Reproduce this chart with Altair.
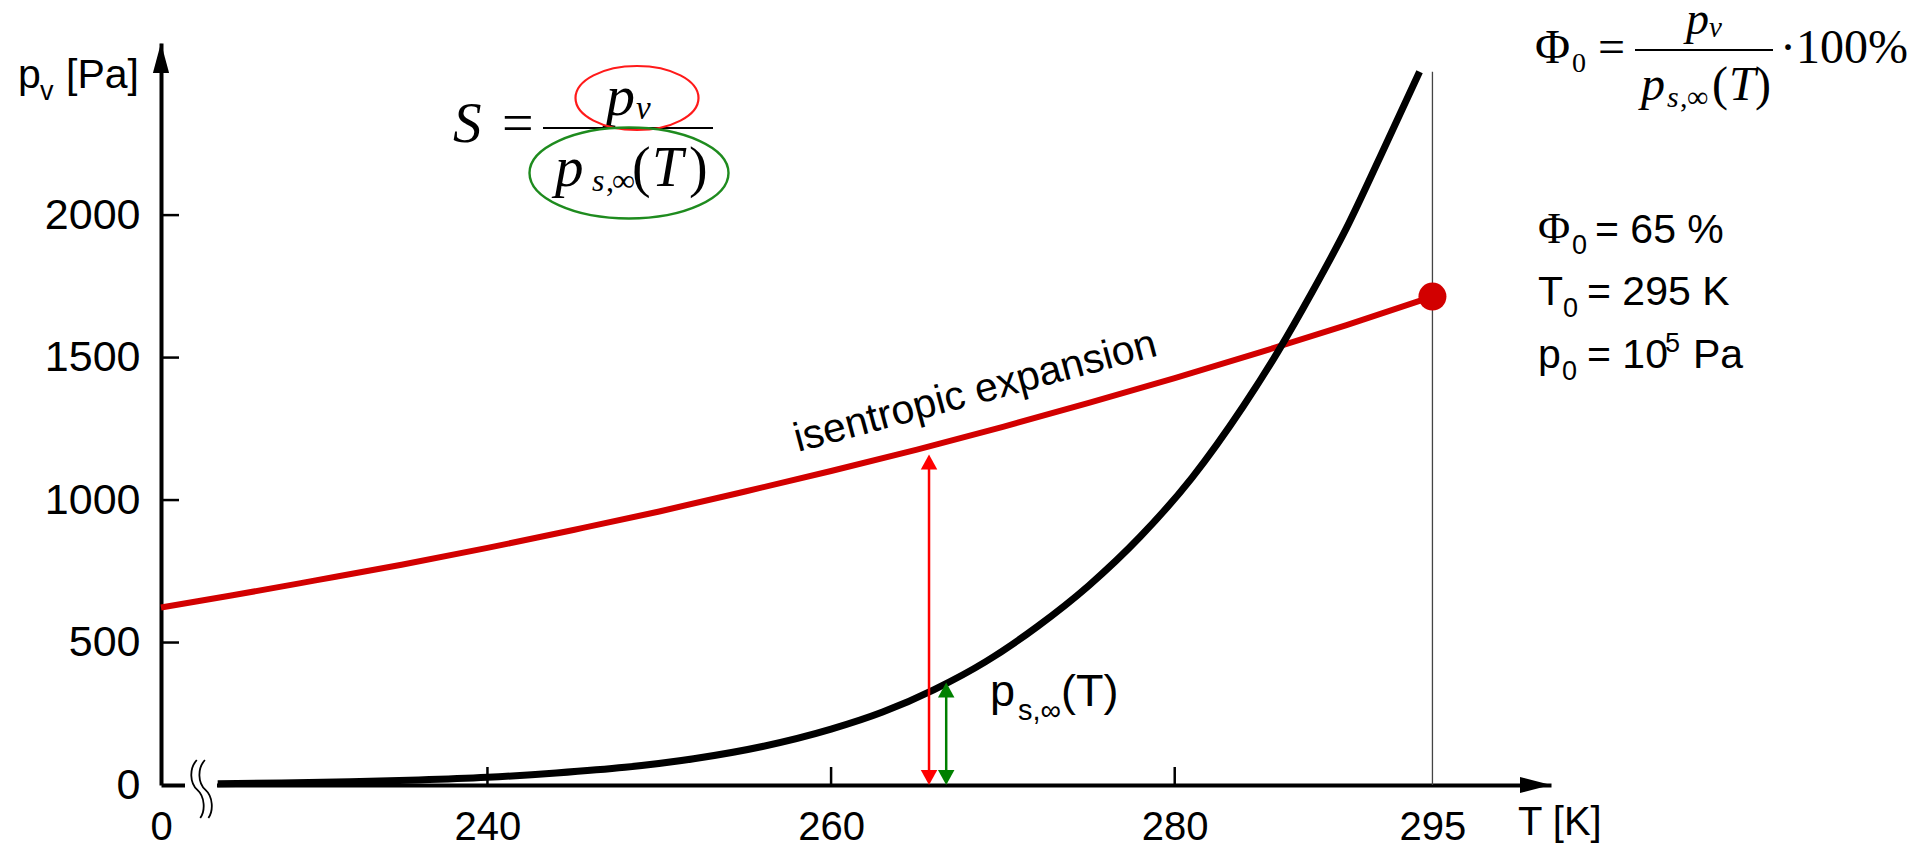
import altair as alt
import pandas as pd

SANS = "Liberation Sans"
SERIF = "Liberation Serif"

# ---------------- data ----------------
# saturation vapour pressure p_s,inf(T)  (black curve)
T_sat = [224.3, 228, 232, 236, 240, 244, 248, 252, 256, 260, 263, 266, 269,
         272, 275, 278, 281, 284, 286, 288, 290, 292, 294.25]
p_sat = [4.6, 7.1, 11.4, 17.5, 27, 42, 62, 92, 135, 196, 256, 335, 433,
         556, 700, 872, 1078, 1330, 1520, 1730, 1955, 2210, 2503]

# isentropic expansion (red curve)
T_isen = [221, 225, 230, 235, 240, 245, 250, 255, 260, 265, 270, 275, 280,
          285, 290, 295]
p_isen = [623, 664, 718, 773, 832, 895, 960, 1030, 1102, 1177, 1257, 1341,
          1428, 1519, 1614, 1714]

x_tick_vals = [240, 260, 280]
y_tick_vals = [500, 1000, 1500, 2000]
x_label_vals = [221, 240, 260, 280, 295]
y_label_vals = [0, 500, 1000, 1500, 2000]

x_domain = [221, 301.9]
y_domain = [0, 2604]

T0 = [295]
pv0 = [1714]
psat_top = [2503]

T_red_arrow = [265.7]
p_red_arrow = [1160]
T_green_arrow = [266.7]
p_green_arrow = [360]

# ---------------- layout ----------------
W, H = 1390, 742

xscale = alt.Scale(domain=x_domain, nice=False, zero=False)
yscale = alt.Scale(domain=y_domain, nice=False, zero=False)

xaxis = alt.Axis(values=x_label_vals, format="d",
                 labelExpr="datum.value == 221 ? '0' : datum.label",
                 title=None, grid=False, ticks=False, tickSize=0,
                 domain=True, domainColor="black", domainWidth=4,
                 labelFont=SANS, labelFontSize=40, labelColor="black",
                 labelPadding=22, labelOverlap=False, labelFlush=False,
                 labelBound=False)
yaxis = alt.Axis(values=y_label_vals, format="d", title=None, grid=False,
                 ticks=False, tickSize=0, domain=True, domainColor="black",
                 domainWidth=4, labelFont=SANS, labelFontSize=43,
                 labelColor="black", labelPadding=21, labelOverlap=False,
                 labelFlush=False, labelBound=False)


def X(f="T"):
    return alt.X(f + ":Q", scale=xscale, axis=xaxis)


def Y(f="p"):
    return alt.Y(f + ":Q", scale=yscale, axis=yaxis)


one = pd.DataFrame({"k": [0]})


def txt(s, x, y, size, font=SANS, style="normal", color="black",
        align="left", angle=0):
    return alt.Chart(one).mark_text(
        text=s, fontSize=size, font=font, fontStyle=style, color=color,
        align=align, baseline="alphabetic", angle=angle
    ).encode(x=alt.value(x), y=alt.value(y))


def ellipse_path(b):
    k = 0.5523
    return (f"M1,0 C1,{k*b:.4f} {k:.4f},{b:.4f} 0,{b:.4f} "
            f"C{-k:.4f},{b:.4f} -1,{k*b:.4f} -1,0 "
            f"C-1,{-k*b:.4f} {-k:.4f},{-b:.4f} 0,{-b:.4f} "
            f"C{k:.4f},{-b:.4f} 1,{-k*b:.4f} 1,0 Z")


UP_HEAD = "M0,0 L0.55,1 L-0.55,1 Z"
DOWN_HEAD = "M0,0 L0.55,-1 L-0.55,-1 Z"
AX_RIGHT = "M0,0 L-1,-0.26 L-1,0.26 Z"
AX_UP = "M0,0 L-0.27,1 L0.27,1 Z"
BREAK = ("M-0.18,-1 C-0.45,-0.7 -0.42,-0.2 -0.16,0.03 C0.1,0.26 0.12,0.75 -0.06,1 "
         "M0.1,-1 C-0.17,-0.7 -0.14,-0.2 0.12,0.03 C0.38,0.26 0.4,0.75 0.22,1")

layers = []

# curves
layers.append(alt.Chart(pd.DataFrame({"T": T_isen, "p": p_isen})).mark_line(
    color="#d20000", strokeWidth=6, interpolate="monotone").encode(x=X(), y=Y()))
layers.append(alt.Chart(pd.DataFrame({"T": T_sat, "p": p_sat})).mark_line(
    color="black", strokeWidth=7, interpolate="monotone").encode(x=X(), y=Y()))

# vertical line at T0
layers.append(alt.Chart(pd.DataFrame({"T": T0, "p": [0], "p2": psat_top})).mark_rule(
    color="#444444", strokeWidth=1.3).encode(x=X(), y=Y(), y2="p2:Q"))

# ticks inside the axes
layers.append(alt.Chart(pd.DataFrame({"T": x_tick_vals})).mark_rule(
    color="black", strokeWidth=2.5).encode(x=X(), y=alt.value(H), y2=alt.value(H - 18)))
layers.append(alt.Chart(pd.DataFrame({"p": y_tick_vals})).mark_rule(
    color="black", strokeWidth=2.5).encode(y=Y(), x=alt.value(0), x2=alt.value(18)))

# axis arrow heads
layers.append(alt.Chart(pd.DataFrame({"T": [x_domain[1]], "p": [0]})).mark_point(
    shape=AX_RIGHT, size=3844, filled=True, color="black", opacity=1).encode(x=X(), y=Y()))
layers.append(alt.Chart(pd.DataFrame({"T": [x_domain[0]], "p": [y_domain[1]]})).mark_point(
    shape=AX_UP, size=3600, filled=True, color="black", opacity=1).encode(x=X(), y=Y()))

# axis break
layers.append(alt.Chart(one).mark_rect(color="white").encode(
    x=alt.value(24), x2=alt.value(56), y=alt.value(736), y2=alt.value(748)))
layers.append(alt.Chart(one).mark_point(
    shape=BREAK, size=3364, filled=False, color="black", strokeWidth=1.8,
    opacity=1).encode(x=alt.value(41), y=alt.value(746)))


# double arrows
def darrow(T, ptop, color):
    d = pd.DataFrame({"T": T, "p": [18], "p2": [ptop[0] - 18]})
    shaft = alt.Chart(d).mark_rule(color=color, strokeWidth=2.5).encode(
        x=X(), y=Y(), y2="p2:Q")
    top = alt.Chart(pd.DataFrame({"T": T, "p": ptop})).mark_point(
        shape=UP_HEAD, size=900, filled=True, color=color, opacity=1).encode(x=X(), y=Y())
    bot = alt.Chart(pd.DataFrame({"T": T, "p": [0]})).mark_point(
        shape=DOWN_HEAD, size=900, filled=True, color=color, opacity=1).encode(x=X(), y=Y())
    return [shaft, top, bot]


layers += darrow(T_red_arrow, p_red_arrow, "#ff0000")
layers += darrow(T_green_arrow, p_green_arrow, "#008000")

# initial state point
layers.append(alt.Chart(pd.DataFrame({"T": T0, "p": pv0})).mark_point(
    shape="circle", size=784, filled=True, color="#d20000", opacity=1).encode(x=X(), y=Y()))

# axis titles
layers += [
    txt("p", -143, 45, 41),
    txt("v", -121, 57, 27),
    txt("[Pa]", -95, 45, 41),
    txt("T [K]", 1357, 792, 40),
]

# curve labels
layers += [
    txt("isentropic expansion", 637, 409, 41, angle=345),
    txt("p", 829, 663, 45),
    txt("s,∞", 857, 677, 29),
    txt("(T)", 900, 663, 45),
]

# S formula
layers += [
    txt("S", 292, 99, 57, font=SERIF, style="italic"),
    txt("=", 341, 99, 56, font=SERIF),
    alt.Chart(one).mark_rule(color="black", strokeWidth=2).encode(
        x=alt.value(382), x2=alt.value(552), y=alt.value(85)),
    txt("p", 445, 72, 58, font=SERIF, style="italic"),
    txt("v", 475, 76, 33, font=SERIF, style="italic"),
    txt("p", 394, 143, 57, font=SERIF, style="italic"),
    txt("s", 431, 148, 32, font=SERIF, style="italic"),
    txt(",", 445, 148, 32, font=SERIF),
    txt("∞", 451, 148, 32, font=SERIF),
    txt("(", 471, 143, 56, font=SERIF),
    txt("T", 491, 143, 56, font=SERIF, style="italic"),
    txt(")", 528, 143, 56, font=SERIF),
    alt.Chart(one).mark_point(shape=ellipse_path(0.52), size=123 ** 2, filled=False,
                              color="#ff1a1a", strokeWidth=2.2, opacity=1).encode(
        x=alt.value(476), y=alt.value(55)),
    alt.Chart(one).mark_point(shape=ellipse_path(0.457), size=199 ** 2, filled=False,
                              color="#1e8b1e", strokeWidth=2.4, opacity=1).encode(
        x=alt.value(468), y=alt.value(130)),
]

# Phi formula (top right)
layers += [
    txt("Φ", 1374, 20, 48, font=SERIF),
    txt("0", 1411, 29, 28, font=SERIF),
    txt("=", 1437, 20, 48, font=SERIF),
    alt.Chart(one).mark_rule(color="black", strokeWidth=1.8).encode(
        x=alt.value(1474), x2=alt.value(1612), y=alt.value(7)),
    txt("p", 1525, -9, 46, font=SERIF, style="italic"),
    txt("v", 1548, -6, 29, font=SERIF, style="italic"),
    txt("p", 1480, 57, 48, font=SERIF, style="italic"),
    txt("s", 1506, 64, 30, font=SERIF, style="italic"),
    txt(",", 1519, 64, 30, font=SERIF),
    txt("∞", 1526, 64, 30, font=SERIF),
    txt("(", 1551, 57, 48, font=SERIF),
    txt("T", 1568, 57, 48, font=SERIF, style="italic"),
    txt(")", 1594, 57, 48, font=SERIF),
    txt("·100%", 1619, 20, 48, font=SERIF),
]

# parameters
layers += [
    txt("Φ", 1377, 200, 44, font=SERIF),
    txt("0", 1411, 211, 27),
    txt("= 65 %", 1434, 200, 41),
    txt("T", 1377, 262, 41),
    txt("0", 1402, 274, 27),
    txt("= 295 K", 1426, 262, 41),
    txt("p", 1377, 325, 41),
    txt("0", 1401, 337, 27),
    txt("= 10", 1426, 325, 41),
    txt("5", 1504, 309, 27),
    txt("Pa", 1532, 325, 41),
]

chart = alt.layer(*layers).properties(
    width=W, height=H,
    autosize=alt.AutoSizeParams(type="none"),
    padding={"left": 153, "top": 35, "right": 357, "bottom": 64},
    background="white",
).configure_view(strokeWidth=0)

chart.save("out.html", embed_options={"renderer": "svg", "actions": False})
